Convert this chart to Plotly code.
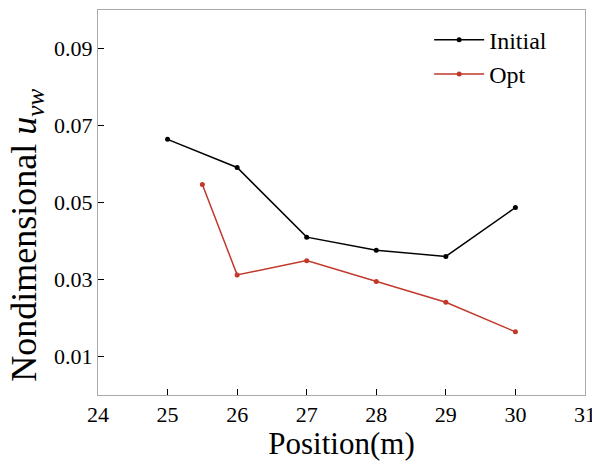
import plotly.graph_objects as go

x_init = [25, 26, 27, 28, 29, 30]
y_init = [0.0664, 0.0591, 0.0410, 0.0376, 0.0360, 0.0487]
x_opt = [25.5, 26, 27, 28, 29, 30]
y_opt = [0.0547, 0.0312, 0.0349, 0.0295, 0.0241, 0.0164]
x_ticks = [24, 25, 26, 27, 28, 29, 30, 31]
y_ticks = [0.01, 0.03, 0.05, 0.07, 0.09]

fig = go.Figure()
fig.add_trace(go.Scatter(x=x_init, y=y_init, mode="lines+markers", name="Initial",
                         line=dict(color="black", width=1.5), marker=dict(size=5, color="black")))
fig.add_trace(go.Scatter(x=x_opt, y=y_opt, mode="lines+markers", name="Opt",
                         line=dict(color="#c0392b", width=1.5), marker=dict(size=5, color="#c0392b")))

font = "Liberation Serif, Times New Roman, serif"
axis_common = dict(showgrid=False, zeroline=False, showline=True, linecolor="#aaaaaa", linewidth=1,
                   mirror=True, ticks="inside", ticklen=6, tickcolor="black", tickwidth=1,
                   ticklabeloverflow="allow", automargin=False,
                   tickfont=dict(family=font, size=22, color="black"))
fig.update_xaxes(range=[24, 31.0001], tickvals=x_ticks, ticktext=[str(t) for t in x_ticks],
                 title=dict(text="Position(m)", font=dict(family=font, size=31, color="black"), standoff=6),
                 **axis_common)
fig.update_yaxes(range=[0, 0.1], tickvals=y_ticks, ticktext=[f"{t:.2f}" for t in y_ticks],
                 **axis_common)
fig.add_annotation(text="Nondimensional <i>u</i><sub><i>vw</i></sub>", textangle=-90,
                   xref="paper", yref="paper", x=-0.147, y=0.415, xanchor="center", yanchor="middle",
                   showarrow=False, font=dict(family=font, size=36, color="black"))
fig.update_layout(width=592, height=461, margin=dict(l=98, r=7, t=10, b=66),
                  plot_bgcolor="white", paper_bgcolor="white",
                  legend=dict(x=0.68, y=0.98, xanchor="left", yanchor="top", bgcolor="rgba(0,0,0,0)",
                              font=dict(family=font, size=24, color="black"), itemwidth=50,
                              tracegroupgap=3))
fig.write_html("out.html")
